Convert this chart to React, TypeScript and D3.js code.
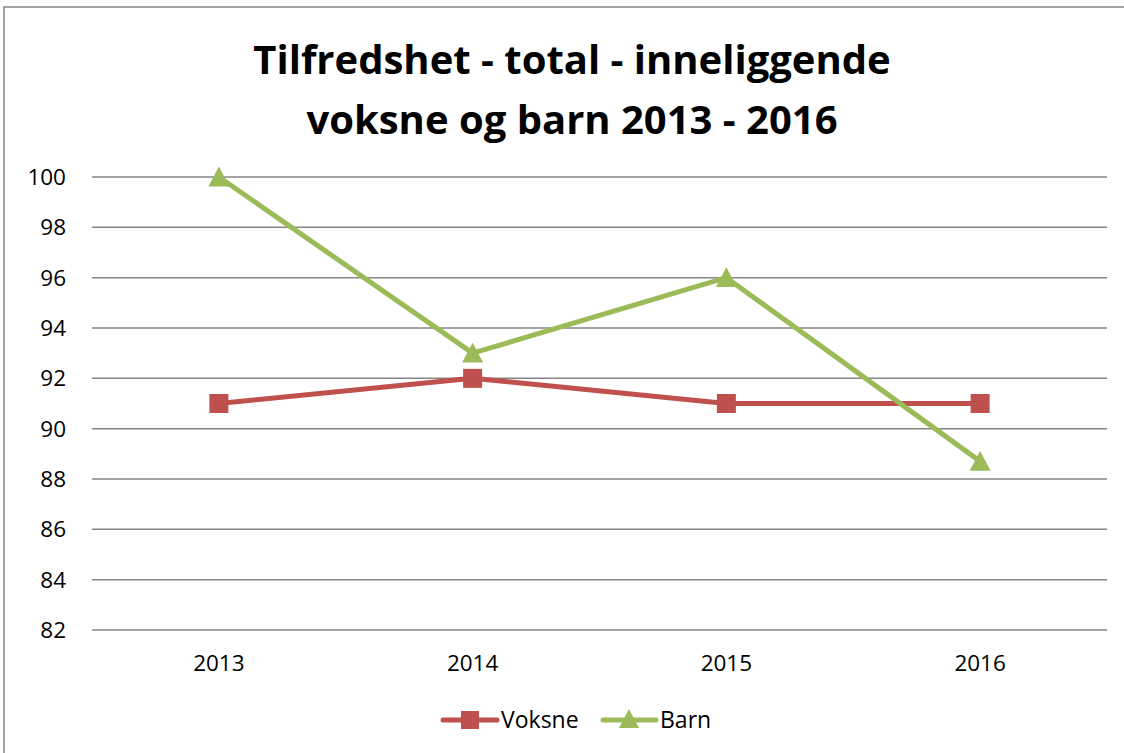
import { scaleLinear, scaleBand, line as d3Line } from "d3";

const years = ["2013", "2014", "2015", "2016"];
const voksne = [91, 92, 91, 91];
const barn = [100, 93, 96, 88.7];
const yTicks = [82, 84, 86, 88, 90, 92, 94, 96, 98, 100];

const W = 1124;
const H = 753;
const FONT = "'Open Sans', 'Liberation Sans', sans-serif";
const RED = "#C0504D";
const GREEN = "#9BBB59";

function Square({ x, y, s = 19 }: { x: number; y: number; s?: number }) {
  return <rect x={x - s / 2} y={y - s / 2} width={s} height={s} fill={RED} />;
}

function Tri({ x, y, s = 21 }: { x: number; y: number; s?: number }) {
  const h = s * 0.9;
  return (
    <path
      d={`M${x},${y - h / 2 - 1}L${x + s / 2},${y + h / 2}L${x - s / 2},${y + h / 2}Z`}
      fill={GREEN}
    />
  );
}

export default function App() {
  const x = scaleBand().domain(years).range([92, 1107]);
  const y = scaleLinear().domain([82, 100]).range([630, 177]);
  const cx = (d: string) => (x(d) ?? 0) + x.bandwidth() / 2;

  const line = d3Line<number>()
    .x((_, i) => cx(years[i]))
    .y((d) => y(d));

  return (
    <svg
      width={W}
      height={H}
      style={{ position: "fixed", left: 0, top: 0, background: "#fff" }}
      fontFamily={FONT}
    >
      {/* chart frame */}
      <rect x={4} y={7} width={W + 10} height={H + 10} fill="#fff" stroke="#888" strokeWidth={1.5} />

      {/* title */}
      <text x={572} y={74} textAnchor="middle" fontSize={40} fontWeight="bold" fill="#000">
        Tilfredshet - total - inneliggende
      </text>
      <text x={572} y={134} textAnchor="middle" fontSize={40} fontWeight="bold" fill="#000">
        voksne og barn 2013 - 2016
      </text>

      {/* gridlines + y labels */}
      {yTicks.map((t) => (
        <g key={t}>
          <line x1={92} x2={1107} y1={y(t)} y2={y(t)} stroke="#868686" strokeWidth={1.5} />
          <text x={66} y={y(t) + 8} textAnchor="end" fontSize={22.5} fill="#000">
            {t}
          </text>
        </g>
      ))}

      {/* x labels */}
      {years.map((d) => (
        <text key={d} x={cx(d)} y={671} textAnchor="middle" fontSize={22.5} fill="#000">
          {d}
        </text>
      ))}

      {/* series */}
      <path d={line(voksne) ?? ""} fill="none" stroke={RED} strokeWidth={5} strokeLinejoin="round" />
      <path d={line(barn) ?? ""} fill="none" stroke={GREEN} strokeWidth={5} strokeLinejoin="round" />
      {voksne.map((v, i) => (
        <Square key={i} x={cx(years[i])} y={y(v)} />
      ))}
      {barn.map((v, i) => (
        <Tri key={i} x={cx(years[i])} y={y(v)} />
      ))}

      {/* legend */}
      <g>
        <line x1={443} x2={497} y1={720} y2={720} stroke={RED} strokeWidth={5} strokeLinecap="round" />
        <Square x={470} y={720} s={18} />
        <text x={501} y={728} fontSize={23} fill="#000">Voksne</text>
        <line x1={603} x2={656} y1={720} y2={720} stroke={GREEN} strokeWidth={5} strokeLinecap="round" />
        <Tri x={629} y={719} s={20} />
        <text x={660} y={728} fontSize={23} fill="#000">Barn</text>
      </g>
    </svg>
  );
}
